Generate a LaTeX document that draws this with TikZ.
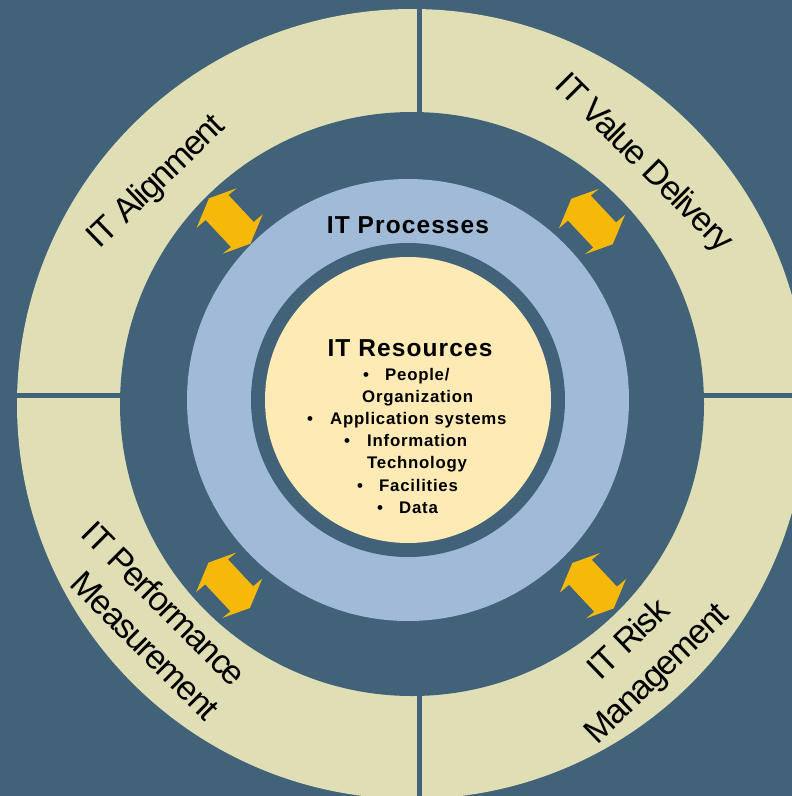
\documentclass[tikz,border=0pt]{standalone}
\usepackage{fontspec}
\setmainfont{Liberation Sans}
\definecolor{bg}{HTML}{416279}
\definecolor{khaki}{HTML}{DFDEB4}
\definecolor{procblue}{HTML}{A0BAD8}
\definecolor{resyellow}{HTML}{FEEAB4}
\definecolor{arrowc}{HTML}{F6B90A}
\tikzset{
  dblarrow/.pic={\fill[arrowc] (7,-32.7) -- (-20.7,-22.7) -- (-33,6.7) -- (-24,-1) -- (1.3,26) -- (-7,32.7) -- (20.7,22.7) -- (33,-6.7) -- (24,1) -- (-1.3,-26) -- cycle;},
  ringlabel/.style={font=\fontsize{34}{40}\selectfont\addfontfeatures{LetterSpace=-4.5}, inner sep=0pt, anchor=base},
  boldtitle/.style={font=\fontsize{24.5}{29}\selectfont\bfseries\addfontfeatures{LetterSpace=4.5}, inner sep=0pt, anchor=base},
  itemtext/.style={font=\fontsize{16.8}{20}\selectfont\bfseries\addfontfeatures{LetterSpace=4.5}, inner sep=0pt, anchor=base west},
  bulletmark/.style={font=\fontsize{16.8}{20}\selectfont\bfseries, inner sep=0pt, anchor=base}
}
\begin{document}
\begin{tikzpicture}[x=1pt,y=-1pt]
\useasboundingbox (0,0) rectangle (792,796);
\fill[bg] (0,0) rectangle (792,796);
% outer ring
\fill[khaki] (412,404) circle[radius=395pt];
\fill[bg] (412,404) circle[radius=292pt];
\draw[bg, line width=5pt] (419.5,0) -- (419.5,796);
\draw[bg, line width=5pt] (0,395.5) -- (792,395.5);
% process ring and resources disc
\fill[procblue] (408,400) circle[radius=221pt];
\fill[bg] (408,400) circle[radius=157pt];
\fill[resyellow] (408,400) circle[radius=143pt];
% arrows
\begin{scope}[shift={(229.7,221)}] \pic {dblarrow}; \end{scope}
\begin{scope}[shift={(592,221.5)},xscale=-1] \pic {dblarrow}; \end{scope}
\begin{scope}[shift={(229.2,585.3)},yscale=-1] \pic {dblarrow}; \end{scope}
\begin{scope}[shift={(593,585.7)}] \pic {dblarrow}; \end{scope}
% titles
\node[boldtitle] (proc) at (408,233) {IT Processes};
\node[boldtitle] (res) at (410,356) {IT Resources};
% items
\node[bulletmark] (b1) at (366,380) {•};
\node[itemtext] (t1) at (385,380) {People/};
\node[itemtext] (t1b) at (362,402) {Organization};
\node[bulletmark] (b2) at (310,424) {•};
\node[itemtext] (t2) at (330,424) {Application systems};
\node[bulletmark] (b3) at (347,446) {•};
\node[itemtext] (t3) at (367,446) {Information};
\node[itemtext] (t3b) at (367,468) {Technology};
\node[bulletmark] (b4) at (360,491) {•};
\node[itemtext] (t4) at (379,491) {Facilities};
\node[bulletmark] (b5) at (380,513) {•};
\node[itemtext] (t5) at (399,513) {Data};
% ring labels
\node[ringlabel, rotate=44] (align) at (163,189) {IT Alignment};
\node[ringlabel, rotate=-45] (value) at (637,170) {IT Value Delivery};
\node[ringlabel, rotate=-45] (perf1) at (156,612) {IT Performance};
\node[ringlabel, rotate=-45] (perf2) at (137,654) {Measurement};
\node[ringlabel, rotate=44] (risk1) at (636,647) {IT Risk};
\node[ringlabel, rotate=44] (risk2) at (664,681) {Management};
\end{tikzpicture}
\end{document}
